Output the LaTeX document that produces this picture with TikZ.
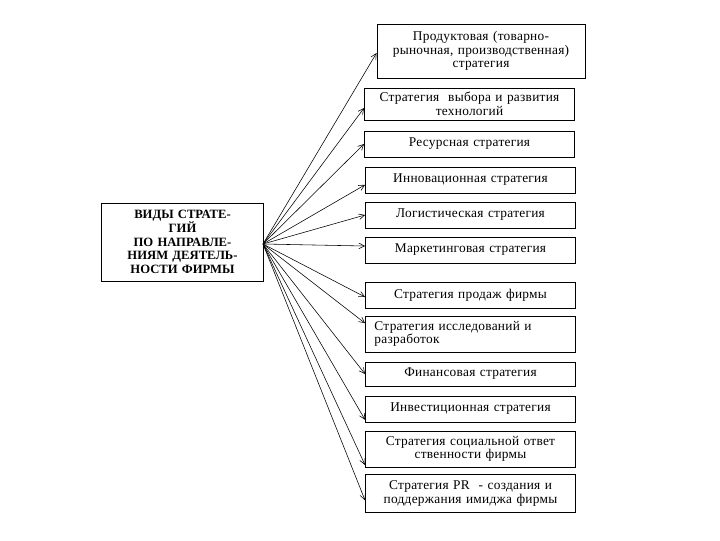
\documentclass[tikz,border=0pt]{standalone}
\usepackage{fontspec}
\setmainfont{Liberation Serif}
\usepackage{tikz}
\usetikzlibrary{arrows.meta,positioning,calc}

\begin{document}
\begin{tikzpicture}[x=0.025cm, y=-0.025cm,
		strat/.style={draw, line width=0.6pt, inner sep=1pt, minimum width=5.25cm, text width=5.1cm, align=center, font=\fontsize{9.5}{9.7}\selectfont\addfontfeature{LetterSpace=2}},
		link/.style={line width=0.4pt, -{Straight Barb[length=4pt, width=4pt]}}]
		\useasboundingbox (0,0) rectangle (720,540);

		\node[draw, line width=0.6pt, minimum width=3.98cm, minimum height=1.95cm, text width=3.8cm, align=center, font=\bfseries\fontsize{9}{9.7}\selectfont] (kind) at (182.5,242) {
			ВИДЫ СТРАТЕ-\\ГИЙ\\ПО НАПРАВЛЕ-\\НИЯМ ДЕЯТЕЛЬ-\\НОСТИ ФИРМЫ
		};
		\coordinate (hub) at (263,244);

		\node[strat, minimum width=5.2cm, minimum height=1.35cm] (s1) at (481,51) {Продуктовая (товарно-\\рыночная, производственная)\\стратегия};
		\node[strat, minimum height=0.8cm] (s2) at (469.5,104) {Стратегия \ выбора и развития\\технологий};
		\node[strat, minimum height=0.65cm] (s3) at (469.5,144) {Ресурсная стратегия};
		\node[strat, minimum height=0.65cm] (s4) at (470.5,180) {Инновационная стратегия};
		\node[strat, minimum height=0.65cm] (s5) at (470.5,215) {Логистическая стратегия};
		\node[strat, minimum height=0.65cm] (s6) at (470.5,250) {Маркетинговая стратегия};
		\node[strat, minimum height=0.65cm] (s7) at (470.5,295) {Стратегия продаж фирмы};
		\node[strat, minimum height=0.9cm, text width=4.8cm, align=left] (s8) at (470.5,334) {Стратегия исследований и\\разработок};
		\node[strat, minimum height=0.6cm] (s9) at (470.5,374) {Финансовая стратегия};
		\node[strat, minimum height=0.65cm] (s10) at (470.5,409) {Инвестиционная стратегия};
		\node[strat, minimum height=0.9cm] (s11) at (470.5,449) {Стратегия социальной ответ\\ственности фирмы};
		\node[strat, minimum height=0.93cm] (s12) at (470.5,493.5) {Стратегия PR \ - создания и\\поддержания имиджа фирмы};

		\draw[link] (hub) -- ([yshift=-0.05cm]s1.west);
		\draw[link] (hub) -- ([yshift=-0.1cm]s2.west);
		\draw[link] (hub) -- (s3.west);
		\draw[link] (hub) -- ([yshift=-0.12cm]s4.west);
		\draw[link] (hub) -- (s5.west);
		\draw[link] (hub) -- ([yshift=0.1cm]s6.west);
		\draw[link] (hub) -- ([yshift=-0.05cm]s7.west);
		\draw[link] (hub) -- ([yshift=0.27cm]s8.west);
		\draw[link] (hub) -- (s9.west);
		\draw[link] (hub) -- ([yshift=-0.27cm]s10.west);
		\draw[link] (hub) -- ([yshift=-0.4cm]s11.west);
		\draw[link] (hub) -- ([yshift=-0.17cm]s12.west);
	\end{tikzpicture}
\end{document}
